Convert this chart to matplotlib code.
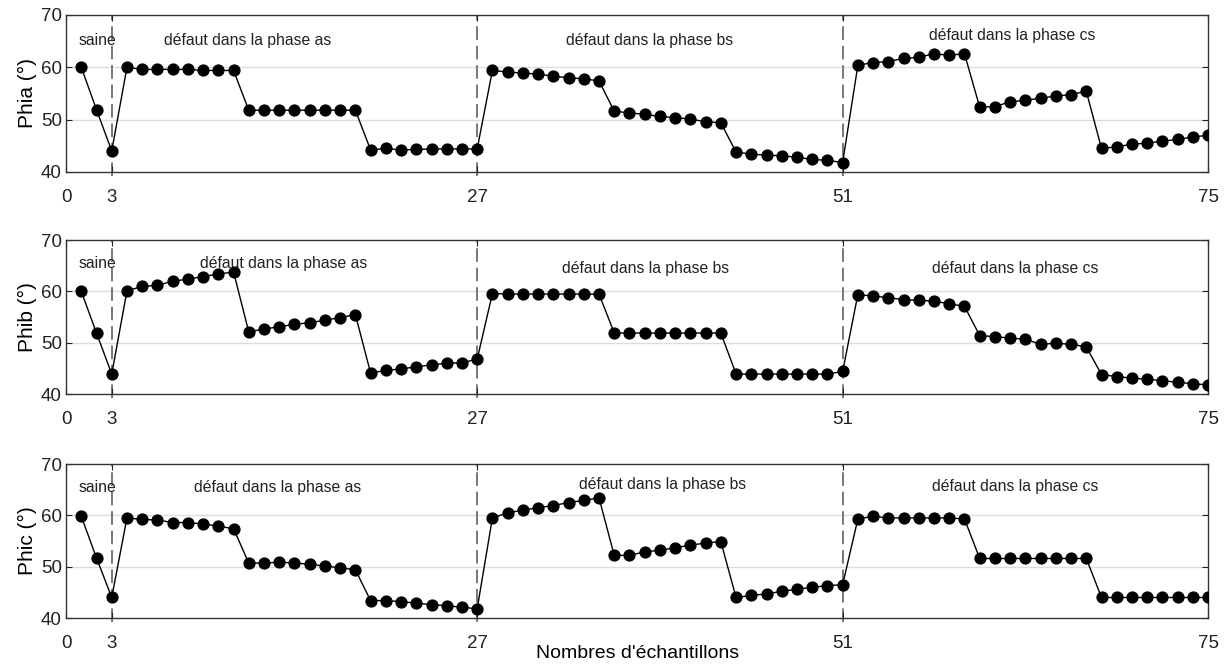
import numpy as np
import matplotlib.pyplot as plt

plt.rcParams['font.family'] = ['Liberation Sans', 'DejaVu Sans']

# sample index 1..75
samples = np.arange(1, 76)

phia = [60.0, 51.9, 44.0,
        60.0, 59.6, 59.6, 59.6, 59.6, 59.4, 59.4, 59.4,
        51.8, 51.8, 51.8, 51.8, 51.8, 51.8, 51.8, 51.8,
        44.2, 44.5, 44.2, 44.3, 44.4, 44.4, 44.4, 44.4,
        59.4, 59.1, 58.9, 58.7, 58.3, 58.0, 57.8, 57.4,
        51.6, 51.3, 51.0, 50.6, 50.4, 50.1, 49.6, 49.4,
        43.8, 43.4, 43.2, 43.1, 42.8, 42.4, 42.2, 41.8,
        60.4, 60.9, 61.1, 61.7, 61.9, 62.6, 62.3, 62.6,
        52.4, 52.5, 53.4, 53.7, 54.1, 54.5, 54.8, 55.4,
        44.5, 44.8, 45.3, 45.5, 45.9, 46.2, 46.7, 47.0]

phib = [60.0, 51.9, 43.9,
        60.1, 61.0, 61.2, 62.0, 62.4, 62.9, 63.4, 63.8,
        52.1, 52.7, 53.1, 53.6, 53.9, 54.4, 54.9, 55.5,
        44.1, 44.6, 44.9, 45.3, 45.7, 46.0, 46.1, 46.8,
        59.6, 59.5, 59.5, 59.5, 59.5, 59.5, 59.5, 59.5,
        51.9, 51.9, 51.9, 51.9, 51.9, 51.9, 51.9, 51.9,
        43.9, 43.9, 43.9, 43.9, 43.9, 43.9, 43.9, 44.4,
        59.4, 59.1, 58.8, 58.4, 58.3, 58.1, 57.6, 57.1,
        51.4, 51.2, 50.9, 50.7, 49.7, 49.9, 49.7, 49.2,
        43.8, 43.4, 43.1, 42.9, 42.6, 42.3, 42.0, 41.8]

phic = [59.8, 51.7, 44.0,
        59.5, 59.2, 59.1, 58.6, 58.6, 58.3, 57.9, 57.4,
        50.7, 50.7, 50.9, 50.7, 50.5, 50.1, 49.8, 49.4,
        43.4, 43.4, 43.2, 42.9, 42.6, 42.4, 42.1, 41.8,
        59.5, 60.5, 61.0, 61.5, 61.9, 62.5, 62.9, 63.4,
        52.2, 52.2, 52.9, 53.2, 53.7, 54.2, 54.6, 54.9,
        44.0, 44.4, 44.7, 45.2, 45.6, 46.0, 46.3, 46.5,
        59.3, 59.8, 59.5, 59.5, 59.5, 59.5, 59.5, 59.3,
        51.6, 51.6, 51.6, 51.6, 51.6, 51.6, 51.6, 51.6,
        44.0, 44.0, 44.0, 44.0, 44.0, 44.0, 44.0, 44.0]

ylabels = ["Phia (°)", "Phib (°)", "Phic (°)"]
xticks = [0, 3, 27, 51, 75]
boundaries = [3, 27, 51]

# annotation positions per subplot: (x, y) for saine, as, bs, cs
labels = ["saine", "défaut dans la phase as", "défaut dans la phase bs", "défaut dans la phase cs"]
label_pos = [
    [(0.8, 65.2), (6.4, 65.2), (32.8, 65.2), (56.7, 66.0)],
    [(0.8, 65.4), (8.8, 65.4), (32.6, 64.4), (56.9, 64.4)],
    [(0.8, 65.5), (8.4, 65.5), (33.7, 66.0), (56.9, 65.7)],
]

fig = plt.figure(figsize=(12.3, 6.69), dpi=100)
boxes = [(0.0537, 0.743, 0.9285, 0.2346),
         (0.0537, 0.411, 0.9285, 0.230),
         (0.0537, 0.0762, 0.9285, 0.2302)]

for i, (series, ylab) in enumerate(zip([phia, phib, phic], ylabels)):
    ax = fig.add_axes(boxes[i])
    for yg in [50, 60]:
        ax.axhline(yg, color="#dcdcdc", lw=1, zorder=0)
    for b in boundaries:
        ax.plot([b, b], [39.3, 70], color="#777777", lw=1.4, ls=(0, (7, 3)),
                clip_on=False, zorder=1)
    ax.plot(samples, series, color="black", lw=1, marker="o", ms=7.8, zorder=3)
    for txt, (tx, ty) in zip(labels, label_pos[i]):
        ax.text(tx, ty, txt, fontsize=11.3, va="center", ha="left", color="#222222")
    ax.set_xlim(0, 75)
    ax.set_ylim(40, 70)
    ax.set_xticks(xticks)
    ax.set_yticks([40, 50, 60, 70])
    ax.tick_params(direction="in", top=True, right=True, length=4,
                   labelsize=13.5, colors="#222222")
    ax.tick_params(axis="x", pad=12)
    ax.tick_params(axis="y", pad=3)
    for s in ax.spines.values():
        s.set_color("#333333")
        s.set_linewidth(1)
    ax.set_ylabel(ylab, fontsize=15, labelpad=3)
    if i == 2:
        ax.set_xlabel("Nombres d'échantillons", fontsize=14, labelpad=-5)

fig.savefig("out.png", dpi=100)
